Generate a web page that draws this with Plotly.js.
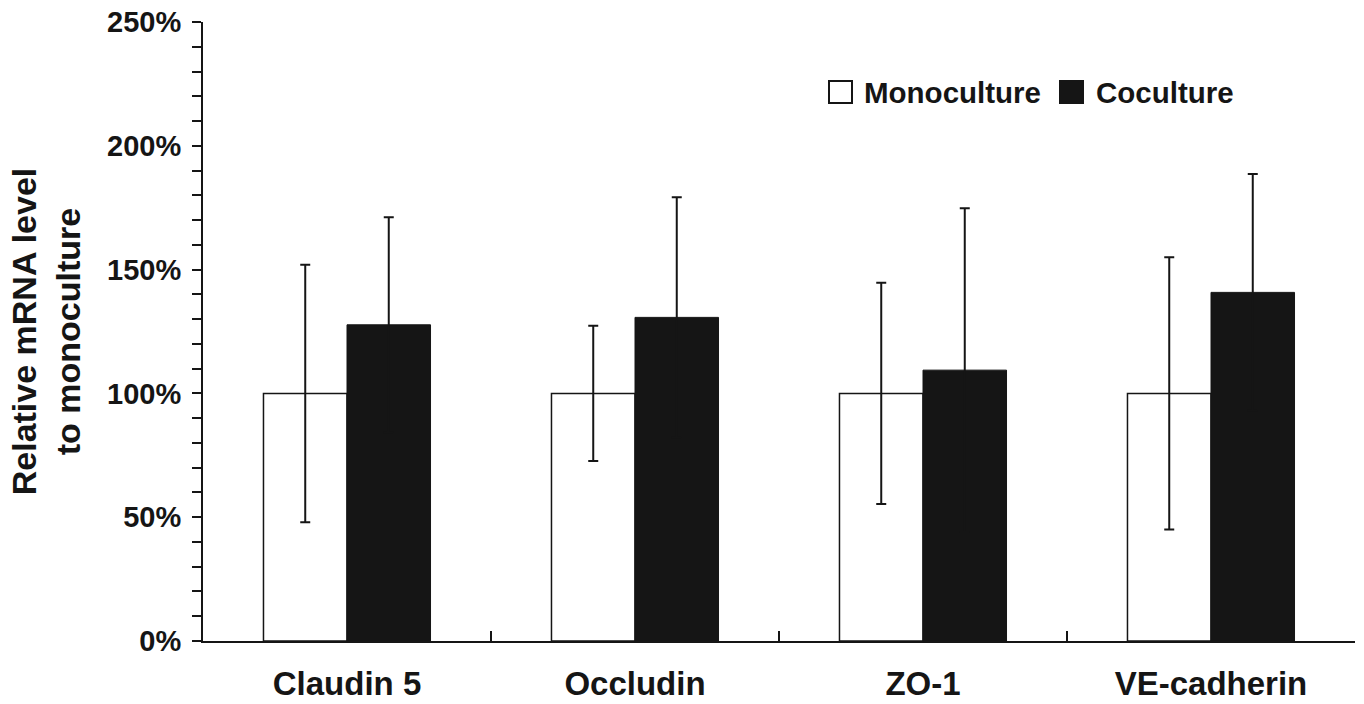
<!DOCTYPE html>
<html>
<head>
<meta charset="utf-8">
<script src="https://cdn.plot.ly/plotly-3.0.1.min.js"></script>
<style>html,body{margin:0;padding:0;background:#fff;}#chart{width:1364px;height:704px;}</style>
</head>
<body>
<div id="chart"></div>
<script>
const categories = ["Claudin 5", "Occludin", "ZO-1", "VE-cadherin"];
const monoValues = [100, 100, 100, 100];
const monoErrors = [52, 27.3, 44.7, 55];
const cocValues = [127.7, 130.7, 109.4, 140.8];
const cocErrors = [43.4, 48.5, 65.4, 47.8];
const seriesNames = ["Monoculture", "Coculture"];
const yTickVals = [0, 50, 100, 150, 200, 250];
const yTickText = ["0%", "50%", "100%", "150%", "200%", "250%"];

const ink = "#151515";
const fontFam = "Liberation Sans, Arial, Helvetica, sans-serif";

const traces = [
  {
    type: "bar", name: seriesNames[0], x: categories, y: monoValues,
    marker: {color: "#ffffff", line: {color: ink, width: 1.5}},
    error_y: {type: "data", array: monoErrors, visible: true, color: ink, thickness: 2, width: 5},
    showlegend: false
  },
  {
    type: "bar", name: seriesNames[1], x: categories, y: cocValues,
    marker: {color: ink, line: {color: ink, width: 1}},
    error_y: {type: "data", array: cocErrors, visible: true, color: ink, thickness: 2, width: 5},
    showlegend: false
  }
];

const layout = {
  width: 1364, height: 704,
  margin: {l: 203, r: 9, t: 22, b: 63},
  paper_bgcolor: "#fff", plot_bgcolor: "#fff",
  barmode: "group", bargap: 0.42, bargroupgap: 0,
  font: {family: fontFam, color: ink, weight: "bold"},
  xaxis: {
    type: "category", tickson: "boundaries", ticks: "inside", ticklen: 10,
    tickwidth: 2, tickcolor: ink, showline: true, linecolor: ink, linewidth: 2,
    showgrid: false, zeroline: false, ticklabelstandoff: 12,
    tickfont: {size: 33, family: fontFam, weight: "bold", color: ink}
  },
  yaxis: {
    range: [0, 250], tickvals: yTickVals, ticktext: yTickText,
    ticks: "outside", ticklen: 9, tickwidth: 2, tickcolor: ink,
    showline: true, linecolor: ink, linewidth: 2, showgrid: false, zeroline: false,
    ticklabelstandoff: 5,
    minor: {dtick: 10, tick0: 0, ticks: "outside", ticklen: 9, tickwidth: 2, tickcolor: ink, showgrid: false},
    tickfont: {size: 29, family: fontFam, weight: "bold", color: ink},
    title: {text: "Relative mRNA level<br>to monoculture", standoff: 16,
            font: {size: 34, family: fontFam, weight: "bold", color: ink}}
  },
  shapes: [
    {type: "rect", xref: "paper", yref: "paper", x0: (829-203)/1152, x1: (852-203)/1152,
     y0: (641-103)/619, y1: (641-81)/619, line: {color: ink, width: 2}, fillcolor: "#fff"},
    {type: "rect", xref: "paper", yref: "paper", x0: (1060-203)/1152, x1: (1083-203)/1152,
     y0: (641-103)/619, y1: (641-81)/619, line: {color: ink, width: 2}, fillcolor: ink}
  ],
  annotations: [
    {xref: "paper", yref: "paper", x: (862-203)/1152, y: (641-93)/619, xanchor: "left", yanchor: "middle",
     text: seriesNames[0], showarrow: false, font: {size: 29.5, family: fontFam, weight: "bold", color: ink}},
    {xref: "paper", yref: "paper", x: (1094-203)/1152, y: (641-93)/619, xanchor: "left", yanchor: "middle",
     text: seriesNames[1], showarrow: false, font: {size: 29.5, family: fontFam, weight: "bold", color: ink}}
  ]
};

Plotly.newPlot("chart", traces, layout, {displayModeBar: false, staticPlot: true});
</script>
</body>
</html>
